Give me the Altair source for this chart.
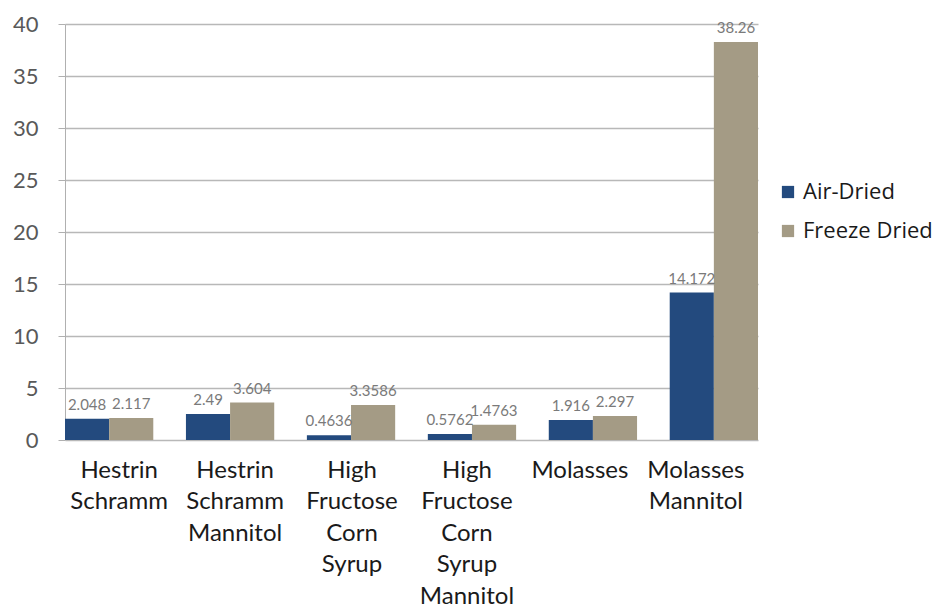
import altair as alt
import pandas as pd

categories = ["Hestrin Schramm", "Hestrin Schramm Mannitol", "High Fructose Corn Syrup",
              "High Fructose Corn Syrup Mannitol", "Molasses", "Molasses Mannitol"]
air_dried = [2.048, 2.49, 0.4636, 0.5762, 1.916, 14.172]
freeze_dried = [2.117, 3.604, 3.3586, 1.4763, 2.297, 38.26]
air_labels = ["2.048", "2.49", "0.4636", "0.5762", "1.916", "14.172"]
freeze_labels = ["2.117", "3.604", "3.3586", "1.4763", "2.297", "38.26"]
series = ["Air-Dried", "Freeze Dried"]
colors = ["#234a7e", "#a49b85"]
label_shift = [10, 5, 1, -5, -13, -18]

rows = []
for i, c in enumerate(categories):
    rows.append({"cat": c, "series": series[0], "value": air_dried[i], "label": air_labels[i]})
    rows.append({"cat": c, "series": series[1], "value": freeze_dried[i], "label": freeze_labels[i]})
df = pd.DataFrame(rows)

FONT = "Lato"

offset_cond = {
    "condition": [{"test": f"datum.value === '{c}'", "value": s}
                  for c, s in zip(categories, label_shift)],
    "value": 0,
}

x = alt.X("cat:N", sort=categories, title=None,
          scale=alt.Scale(paddingInner=0.27, paddingOuter=0),
          axis=alt.Axis(labelExpr="split(datum.label, ' ')", labelAngle=0, labelFontSize=24,
                        labelColor="#1a1a1a", labelFont=FONT, labelLineHeight=31.5,
                        labelPadding=18, ticks=False, domain=False, labelBaseline="top",
                        labelOffset=offset_cond))
xo = alt.XOffset("series:N", sort=series, scale=alt.Scale(paddingInner=0, paddingOuter=0))
y = alt.Y("value:Q", title=None,
          scale=alt.Scale(domain=[0, 40], nice=False),
          axis=alt.Axis(values=[0, 5, 10, 15, 20, 25, 30, 35, 40], labelFontSize=22,
                        labelColor="#595959", labelFont=FONT, labelPadding=20,
                        tickSize=7, tickColor="#b0b0b0", domainColor="#b0b0b0",
                        gridColor="#b8b8b8", grid=True, gridWidth=1.3))

bars = alt.Chart(df).mark_bar().encode(
    x=x, xOffset=xo, y=y,
    color=alt.Color("series:N", sort=series,
                    scale=alt.Scale(domain=series, range=colors),
                    legend=alt.Legend(title=None, orient="none", legendX=712, legendY=157,
                                      labelFontSize=22, labelFont="Open Sans", labelColor="#1a1a1a",
                                      symbolType="square", symbolSize=150, rowPadding=17,
                                      symbolStrokeWidth=0))
)

texts = alt.Chart(df).mark_text(baseline="bottom", dy=-6, fontSize=15, font=FONT,
                                color="#7a7a7a").encode(
    x=alt.X("cat:N", sort=categories), xOffset=alt.XOffset("series:N", sort=series),
    y="value:Q", text="label:N"
)

chart = (bars + texts).properties(
    width=693, height=416,
    autosize=alt.AutoSizeParams(type="none"),
    padding={"left": 57, "top": 16, "right": 175, "bottom": 170}
).configure_view(stroke=None).configure_axisX(grid=False)

chart.save("out.html", embed_options={"renderer": "svg", "actions": False})
